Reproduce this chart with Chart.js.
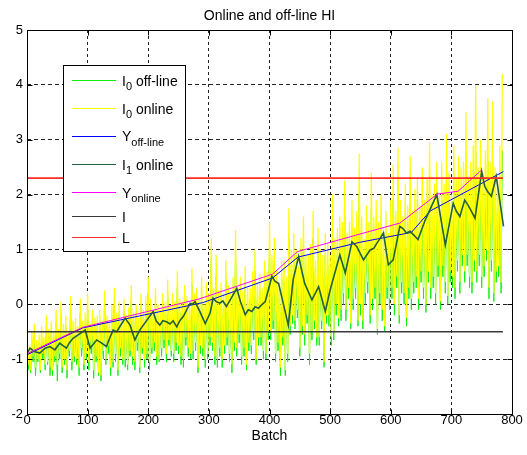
<!DOCTYPE html>
<html>
<head>
<meta charset="utf-8">
<script src="https://cdn.jsdelivr.net/npm/chart.js@4/dist/chart.umd.min.js"></script>
<style>
  body { margin: 0; background: #fff; }
  canvas { display: block; }
</style>
</head>
<body>
<canvas id="hi" width="527" height="455"></canvas>
<script>
'use strict'
// I0 samples, one every 2 batches (0..784)
const batchStep = 2;
const onlineI0 = [
  -0.6, -1.1, -0.75, -1.2, -0.5, -0.95, -0.35, -1.15, -0.65, -1.0, -0.55, -1.2, -0.4, -0.9, -0.6, -1.1, -0.2, -1.05, -0.45, -1.15,
  -0.3, -1.2, -0.5, -0.95, -0.1, -1.1, -0.45, -0.9, 0.05, -1.15, -0.35, -1.0, -0.2, -1.2, -0.5, -0.85, 0.15, -1.05, -0.3, -0.95,
  -0.25, -1.0, -0.4, -1.15, 0.1, -0.8, -0.3, -1.1, -0.15, -0.9, 0.2, -1.05, -0.35, -0.75, -0.1, -1.2, -0.25, -0.95, -0.2, -1.25,
  -0.1, -1.3, -0.3, -0.85, 0.25, -1.0, -0.2, -0.75, -0.3, -1.15, 0.0, -1.05, 0.3, -0.9, -0.15, -1.2, 0.05, -0.8, -0.25, -1.0,
  0.1, -1.0, -0.2, -1.1, -0.05, -0.85, 0.35, -0.95, -0.15, -1.05, 0.0, -0.7, -0.25, -1.15, 0.2, -0.8, -0.1, -1.0, 0.15, -0.9,
  0.5, -1.05, 0.1, -0.8, -0.1, -0.7, 0.3, -0.95, 0.0, -1.0, -0.1, -0.8, 0.2, -0.65, 0.05, -0.9, 0.45, -0.65, -0.05, -0.85,
  0.2, -0.9, 0.05, -0.7, 0.6, -0.75, 0.1, -0.95, 0.05, -1.0, 0.35, -0.6, 0.15, -0.8, 0.0, -0.9, 0.65, -0.85, 0.2, -0.7,
  0.3, -1.15, 0.1, -0.75, 0.5, -0.8, 0.0, -1.0, 0.4, -0.9, 0.2, -0.6, 1.2, -0.7, 0.3, -0.95, 0.9, -1.0, 0.25, -0.8,
  0.4, -1.0, 0.2, -0.75, 0.8, -0.6, 0.35, -0.9, 0.2, -1.1, 0.5, -0.7, 1.35, -0.8, 0.3, -0.55, 0.5, -0.95, 0.25, -0.8,
  0.7, -1.1, 0.3, -0.7, 0.3, -0.75, 0.6, -0.5, 1.0, -1.0, 0.4, -0.6, 0.55, -0.6, 0.3, -0.85, 0.8, -0.9, 0.6, -0.5,
  1.5, -0.5, 0.9, -0.3, 1.2, -0.9, 0.6, -0.7, 0.4, -1.15, 0.8, -0.6, 0.8, -1.2, 0.5, -0.9, 1.75, -0.4, 1.0, -0.2,
  1.3, -0.3, 1.0, -0.1, 0.7, -0.8, 1.2, -0.4, 1.6, -0.55, 0.9, -0.2, 0.9, -0.9, 1.1, -0.5, 1.7, -0.3, 0.8, -0.6,
  1.4, -0.6, 1.0, -0.3, 0.9, -1.05, 1.3, -0.2, 1.1, -0.2, 0.9, -0.6, 2.0, -0.5, 1.2, 0.0, 1.4, -0.25, 1.6, -0.1,
  1.5, 0.2, 2.25, -0.1, 1.3, 0.3, 1.5, -0.35, 1.9, 0.1, 1.4, 0.3, 1.7, -0.3, 2.75, 0.0, 1.6, -0.3, 1.2, 0.2,
  1.8, 0.4, 1.5, -0.2, 2.4, 0.1, 1.6, 0.3, 1.9, -0.45, 1.5, 0.2, 2.0, -0.1, 1.4, -0.4, 1.7, 0.3, 1.3, 0.1,
  1.9, 0.3, 2.55, 0.0, 1.7, 0.5, 2.85, -0.2, 1.9, 0.4, 1.6, 0.2, 2.2, -0.25, 1.8, 0.3, 2.7, 0.1, 1.7, 0.4,
  2.1, 0.5, 2.3, 0.1, 1.8, 0.6, 2.5, 0.3, 1.9, 0.0, 2.3, 0.6, 2.95, 0.3, 2.0, 0.5, 2.2, 0.2, 2.6, 0.7,
  2.0, 0.05, 2.6, 0.7, 2.2, 0.4, 3.1, 0.15, 2.4, 0.6, 2.0, 0.5, 2.9, 0.3, 2.3, 0.8, 2.7, 0.4, 2.5, 0.9,
  2.6, 0.6, 3.5, 0.9, 2.3, 0.5, 2.6, 0.4, 2.9, 0.8, 4.0, 0.6, 2.5, 0.9, 3.0, 0.5, 2.4, 0.7, 2.8, 1.0,
  3.75, 0.3, 2.6, 0.8, 3.7, 0.2, 2.5, 0.6, 2.3, 0.7, 2.9, 0.4, 4.2
];
const offlineI0 = [
  -0.8, -1.2, -0.9, -1.25, -0.7, -1.05, -0.6, -1.3, -0.8, -1.05, -0.7, -1.25, -0.6, -1.0, -0.8, -1.2, -0.45, -1.1, -0.6, -1.3,
  -0.5, -1.3, -0.7, -1.05, -0.35, -1.4, -0.6, -1.0, -0.2, -1.25, -0.55, -1.1, -0.4, -1.35, -0.7, -0.95, -0.1, -1.2, -0.5, -1.05,
  -0.45, -1.1, -0.6, -1.3, -0.15, -0.95, -0.5, -1.2, -0.4, -1.0, -0.1, -1.2, -0.55, -0.9, -0.3, -1.35, -0.45, -1.05, -0.4, -1.3,
  -0.3, -1.4, -0.5, -1.0, 0.0, -1.1, -0.4, -0.9, -0.5, -1.3, -0.25, -1.15, 0.0, -1.05, -0.35, -1.3, -0.2, -0.95, -0.45, -1.1,
  -0.15, -1.15, -0.4, -1.2, -0.3, -0.95, 0.05, -1.1, -0.35, -1.2, -0.2, -0.85, -0.45, -1.25, -0.05, -0.9, -0.3, -1.15, -0.1, -1.0,
  0.2, -1.2, -0.15, -0.9, -0.3, -0.85, 0.0, -1.1, -0.25, -1.05, -0.3, -0.95, -0.05, -0.8, -0.2, -1.05, 0.15, -0.75, -0.25, -0.95,
  -0.05, -1.05, -0.2, -0.85, 0.3, -0.9, -0.15, -1.1, -0.2, -1.15, 0.1, -0.75, -0.1, -0.95, -0.25, -1.0, 0.35, -1.0, -0.05, -0.85,
  0.0, -1.25, -0.15, -0.9, 0.2, -0.95, -0.25, -1.15, 0.1, -1.0, -0.05, -0.75, 0.8, -0.85, 0.0, -1.1, 0.5, -1.15, 0.0, -0.95,
  0.1, -1.15, -0.05, -0.9, 0.45, -0.75, 0.05, -1.05, -0.05, -1.25, 0.2, -0.85, 0.9, -0.95, 0.0, -0.7, 0.2, -1.1, 0.0, -0.95,
  0.4, -1.2, 0.0, -0.85, 0.05, -0.9, 0.3, -0.65, 0.6, -1.1, 0.1, -0.75, 0.25, -0.75, 0.0, -1.0, 0.45, -1.0, 0.3, -0.65,
  1.0, -0.65, 0.5, -0.45, 0.8, -1.05, 0.3, -0.85, 0.1, -1.3, 0.45, -0.75, 0.4, -1.3, 0.2, -1.05, 1.2, -0.55, 0.6, -0.35,
  0.9, -0.45, 0.6, -0.25, 0.4, -0.95, 0.8, -0.55, 1.1, -0.75, 0.5, -0.35, 0.5, -1.1, 0.7, -0.65, 1.2, -0.45, 0.45, -0.75,
  1.0, -0.75, 0.6, -0.45, 0.5, -1.15, 0.9, -0.35, 0.7, -0.4, 0.5, -0.75, 1.4, -0.65, 0.8, -0.2, 0.9, -0.4, 1.1, -0.3,
  1.0, 0.0, 1.6, -0.3, 0.9, 0.1, 1.0, -0.45, 1.3, -0.1, 0.9, 0.1, 1.2, -0.4, 2.0, -0.2, 1.1, -0.45, 0.8, 0.0,
  1.2, 0.2, 1.0, -0.35, 1.7, -0.1, 1.1, 0.1, 1.3, -0.55, 1.0, 0.0, 1.4, -0.3, 0.9, -0.5, 1.2, 0.1, 0.9, -0.1,
  1.3, 0.1, 1.9, -0.2, 1.2, 0.3, 2.0, -0.35, 1.3, 0.2, 1.1, 0.0, 1.6, -0.4, 1.2, 0.1, 1.9, -0.1, 1.2, 0.2,
  1.5, 0.3, 1.7, -0.1, 1.3, 0.4, 1.8, 0.1, 1.4, -0.15, 1.7, 0.4, 2.1, 0.1, 1.5, 0.3, 1.6, 0.0, 1.9, 0.5,
  1.4, -0.1, 1.9, 0.5, 1.6, 0.2, 2.2, 0.0, 1.8, 0.4, 1.5, 0.3, 2.1, 0.1, 1.7, 0.6, 2.0, 0.2, 1.8, 0.7,
  1.9, 0.4, 2.5, 0.7, 1.7, 0.3, 1.9, 0.2, 2.1, 0.6, 2.8, 0.4, 1.8, 0.7, 2.2, 0.3, 1.8, 0.5, 2.0, 0.8,
  2.6, 0.1, 1.9, 0.6, 2.6, 0.05, 1.8, 0.4, 1.7, 0.5, 2.0, 0.2, 2.8
];

// online I1 (smoothed)
const i1Batch = [0, 5, 12, 21, 30, 38, 46, 54, 60, 65, 70, 76, 96, 104, 110, 115, 122, 131, 137, 142,
  148, 153, 162, 166, 170, 178, 186, 208, 213, 219, 224, 230, 236, 241, 247, 252, 258, 269, 273, 277,
  285, 294, 302, 307, 312, 318, 323, 329, 346, 352, 360, 365, 371, 376, 382, 388, 393, 404, 409, 415,
  431, 439, 448, 458, 470, 481, 492, 500, 516, 525, 536, 544, 555, 566, 572, 577, 588, 596, 604, 615,
  620, 626, 632, 645, 657, 676, 690, 703, 708, 714, 722, 728, 739, 750, 755, 760, 766, 774, 786];
const i1Value = [-0.9, -0.8, -0.86, -0.89, -0.8, -0.77, -0.83, -0.71, -0.76, -0.8, -0.7, -0.62, -0.47, -0.8, -0.72, -0.65, -0.7, -0.77, -0.6, -0.47,
  -0.5, -0.41, -0.25, -0.32, -0.38, -0.65, -0.47, -0.13, -0.3, -0.38, -0.3, -0.32, -0.36, -0.3, -0.41, -0.3, -0.22, 0.02, 0.0, 0.05,
  -0.13, -0.35, -0.16, 0.11, 0.05, 0.02, 0.06, -0.04, 0.29, 0.05, -0.19, -0.1, -0.13, -0.05, -0.07, 0.0, 0.05, 0.51, 0.42, 0.38,
  -0.38, 0.45, 0.87, 0.38, 0.08, 0.32, -0.13, 0.26, 0.9, 0.57, 1.14, 1.05, 0.81, 0.99, 1.02, 1.11, 1.3, 0.72, 0.81, 1.42,
  1.38, 1.3, 1.33, 1.18, 1.54, 2.0, 1.08, 1.84, 1.7, 1.6, 1.9, 1.8, 1.57, 2.42, 2.15, 2.05, 1.97, 2.33, 1.42];

// piecewise linear fits
const yOfflineBatch = [0, 92, 290, 405, 447, 549, 634, 665, 786];
const yOfflineValue = [-0.92, -0.43, 0.03, 0.48, 0.86, 1.13, 1.31, 1.7, 2.42];
const yOnlineBatch = [0, 92, 285, 405, 446, 549, 615, 677, 711, 750];
const yOnlineValue = [-0.9, -0.42, 0.1, 0.55, 0.96, 1.28, 1.48, 2.01, 2.06, 2.45];

const levelI = -0.5;
const levelL = 2.3;
const lastBatch = 785;

const legendMain = ['I', 'I', 'Y', 'I', 'Y', 'I', 'L'];
const legendSub = ['0', '0', 'off-line', '1', 'online', '', ''];
const legendRest = [' off-line', ' online', '', ' online', '', '', ''];
const legendRows = [80.3, 108.3, 135.7, 164.3, 192.3, 216, 237.3];

const fontFamily = '"Liberation Sans", Arial, Helvetica, sans-serif';

function sampled(values) {
    return values.map((v, i) => ({ x: i * batchStep, y: v }));
}
function paired(xs, ys) {
    return xs.map((x, i) => ({ x: x, y: ys[i] }));
}
function flat(level) {
    return [{ x: 0, y: level }, { x: lastBatch, y: level }];
}

function line(label, data, color, width, order) {
    return {
        label: label, data: data, borderColor: color, backgroundColor: color,
        borderWidth: width, pointRadius: 0, tension: 0, fill: false, order: order
    };
}

const datasets = [
    line('I0 off-line', sampled(offlineI0), '#10f010', 1, 7),
    line('I0 online', sampled(onlineI0), '#ffff00', 1.2, 6),
    line('Y off-line', paired(yOfflineBatch, yOfflineValue), '#0000ff', 1, 5),
    line('I1 online', paired(i1Batch, i1Value), '#24603a', 1.6, 4),
    line('Y online', paired(yOnlineBatch, yOnlineValue), '#ff00ff', 1, 3),
    line('I', flat(levelI), '#3a3a3a', 1.6, 2),
    line('L', flat(levelL), '#ff2a2a', 1.6, 1)
];

const framePlugin = {
    id: 'frame',
    afterDraw(chart) {
        const c = chart.ctx;
        const a = chart.chartArea;
        const sx = chart.scales.x, sy = chart.scales.y;
        c.save();
        c.setLineDash([]);
        c.strokeStyle = '#000';
        c.lineWidth = 1;
        const L = Math.round(a.left) + 0.5, R = Math.round(a.right) + 0.5;
        const T = Math.round(a.top) + 0.5, B = Math.round(a.bottom) + 0.5;
        c.strokeRect(L, T, R - L, B - T);
        c.beginPath();
        sx.ticks.forEach(t => {
            const px = Math.round(sx.getPixelForValue(t.value)) + 0.5;
            c.moveTo(px, B); c.lineTo(px, B - 5);
            c.moveTo(px, T); c.lineTo(px, T + 5);
        });
        sy.ticks.forEach(t => {
            const py = Math.round(sy.getPixelForValue(t.value)) + 0.5;
            c.moveTo(L, py); c.lineTo(L + 5, py);
            c.moveTo(R, py); c.lineTo(R - 5, py);
        });
        c.stroke();

        // title
        c.fillStyle = '#000';
        c.font = '14px ' + fontFamily;
        c.textAlign = 'center';
        c.textBaseline = 'alphabetic';
        c.fillText('Online and off-line HI', (a.left + a.right) / 2, 20);

        // legend
        c.fillStyle = '#fff';
        c.fillRect(63.5, 65.5, 122, 186);
        c.strokeRect(63.5, 65.5, 122, 186);
        legendRows.forEach((y, i) => {
            const ds = datasets[i];
            c.strokeStyle = ds.borderColor;
            c.lineWidth = 1;
            c.beginPath();
            c.moveTo(72, Math.round(y) + 0.5);
            c.lineTo(116, Math.round(y) + 0.5);
            c.stroke();
            c.fillStyle = '#000';
            c.textAlign = 'left';
            let x = 122;
            c.font = '14px ' + fontFamily;
            c.fillText(legendMain[i], x, y + 5.5);
            x += c.measureText(legendMain[i]).width;
            if (legendSub[i]) {
                c.font = '11px ' + fontFamily;
                c.fillText(legendSub[i], x, y + 10);
                x += c.measureText(legendSub[i]).width;
            }
            if (legendRest[i]) {
                c.font = '14px ' + fontFamily;
                c.fillText(legendRest[i], x, y + 5.5);
            }
        });
        c.restore();
    }
};

const tickFont = { family: fontFamily, size: 13, lineHeight: 1 };

new Chart(document.getElementById('hi'), {
    type: 'line',
    data: { datasets: datasets },
    options: {
        responsive: false,
        animation: false,
        events: [],
        layout: { padding: { top: 30, right: 15, left: 0, bottom: 0 } },
        plugins: {
            legend: { display: false },
            tooltip: { enabled: false },
            title: { display: false }
        },
        scales: {
            x: {
                type: 'linear', min: 0, max: 800, z: 1,
                ticks: { stepSize: 100, color: '#000', font: tickFont, padding: 0, maxRotation: 0 },
                grid: { color: '#222', lineWidth: 1, drawTicks: false },
                border: { display: false, dash: [3, 3] },
                title: {
                    display: true, text: 'Batch', color: '#000',
                    font: { family: fontFamily, size: 14 }, padding: { top: 0, bottom: 10 }
                },
                afterFit: s => { s.height = 41; }
            },
            y: {
                type: 'linear', min: -2, max: 5, z: 1,
                ticks: { stepSize: 1, color: '#000', font: tickFont, padding: 4 },
                grid: { color: '#222', lineWidth: 1, drawTicks: false },
                border: { display: false, dash: [4, 3] },
                afterFit: s => { s.width = 27; }
            }
        }
    },
    plugins: [framePlugin]
});
</script>
</body>
</html>
